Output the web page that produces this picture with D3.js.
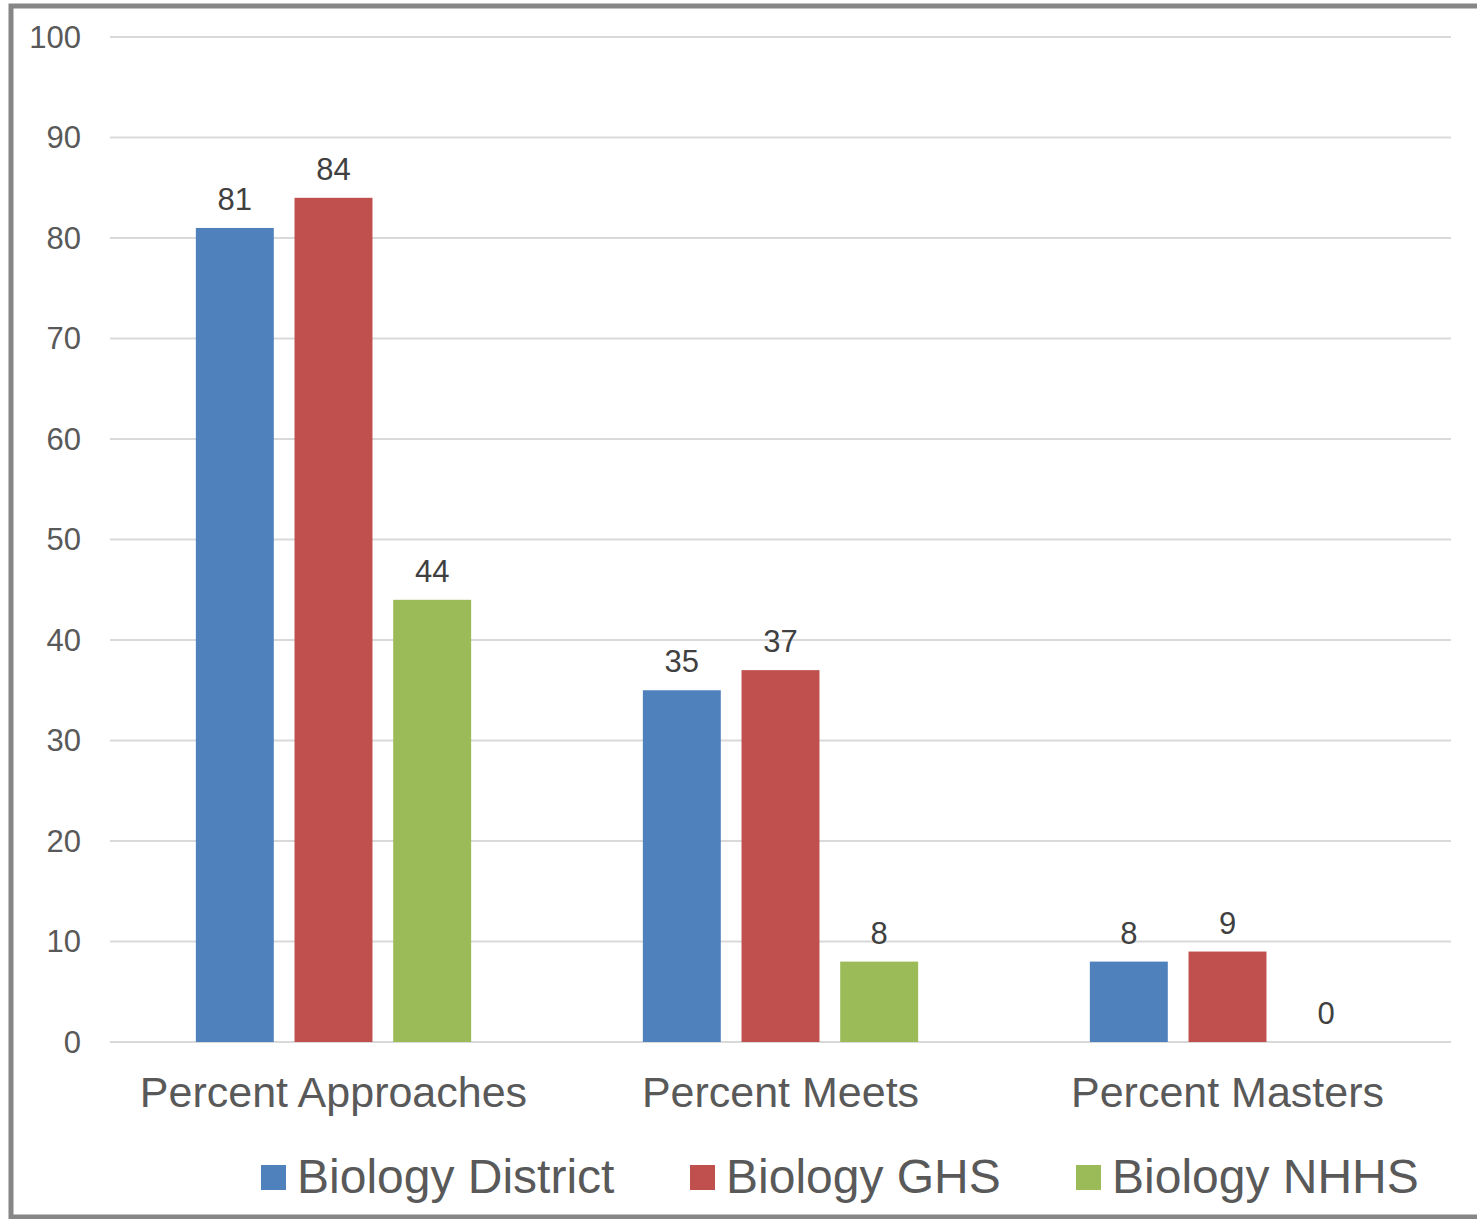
<!DOCTYPE html>
<html>
<head>
<meta charset="utf-8">
<script src="https://cdnjs.cloudflare.com/ajax/libs/d3/7.8.5/d3.min.js"></script>
<style>
  body { margin: 0; background: #fff; }
  text { font-family: "Liberation Sans", Arial, sans-serif; }
</style>
</head>
<body>
<div id="chart"></div>
<script>
const categories = ["Percent Approaches", "Percent Meets", "Percent Masters"];
const seriesNames = ["Biology District", "Biology GHS", "Biology NHHS"];
const district = [81, 35, 8];
const ghs = [84, 37, 9];
const nhhs = [44, 8, 0];
const yTicks = [0, 10, 20, 30, 40, 50, 60, 70, 80, 90, 100];
const colors = ["#4f81bd", "#c0504d", "#9bbb59"];

const width = 1477, height = 1219;
const margin = { left: 110, right: 26, top: 37, bottom: 177 };

const svg = d3.select("#chart")
    .append("svg")
    .attr("width", width)
    .attr("height", height);

svg.append("rect").attr("width", width).attr("height", height).attr("fill", "#fff");

// frame (left, top, bottom; right edge cut off)
const frame = d3.path();
frame.moveTo(width, 6);
frame.lineTo(11, 6);
frame.lineTo(11, 1217);
frame.lineTo(width, 1217);
svg.append("path")
    .attr("d", frame.toString())
    .attr("fill", "none")
    .attr("stroke", "#868686")
    .attr("stroke-width", 5);

const x = d3.scaleBand()
    .domain(categories)
    .range([margin.left, width - margin.right]);

const x1 = d3.scaleBand()
    .domain(seriesNames)
    .range([0, x.bandwidth()])
    .paddingInner(0.21)
    .paddingOuter(0.87);

const y = d3.scaleLinear()
    .domain([0, 100])
    .range([height - margin.bottom - 0, margin.top]);

// gridlines
svg.append("g")
    .selectAll("line")
    .data(yTicks)
    .join("line")
    .attr("x1", margin.left)
    .attr("x2", width - margin.right)
    .attr("y1", d => y(d))
    .attr("y2", d => y(d))
    .attr("stroke", "#d9d9d9")
    .attr("stroke-width", 2);

// y tick labels
svg.append("g")
    .selectAll("text")
    .data(yTicks)
    .join("text")
    .attr("x", 81)
    .attr("y", d => y(d))
    .attr("dy", "0.35em")
    .attr("text-anchor", "end")
    .attr("font-size", 31)
    .attr("fill", "#595959")
    .text(d => d);

const series = [district, ghs, nhhs];
const rows = [];
series.forEach((vals, si) => {
    vals.forEach((v, ci) => {
        rows.push({ s: seriesNames[si], c: categories[ci], v: v, si: si });
    });
});

// bars
svg.append("g")
    .selectAll("rect")
    .data(rows)
    .join("rect")
    .attr("x", d => x(d.c) + x1(d.s))
    .attr("y", d => y(d.v))
    .attr("width", x1.bandwidth())
    .attr("height", d => y(0) - y(d.v))
    .attr("fill", d => colors[d.si]);

// value labels
svg.append("g")
    .selectAll("text")
    .data(rows)
    .join("text")
    .attr("x", d => x(d.c) + x1(d.s) + x1.bandwidth() / 2)
    .attr("y", d => y(d.v) - 18)
    .attr("text-anchor", "middle")
    .attr("font-size", 31)
    .attr("fill", "#404040")
    .text(d => d.v);

// category labels
svg.append("g")
    .selectAll("text")
    .data(categories)
    .join("text")
    .attr("x", d => x(d) + x.bandwidth() / 2)
    .attr("y", 1107)
    .attr("text-anchor", "middle")
    .attr("font-size", 43)
    .attr("fill", "#595959")
    .text(d => d);

// legend
const legendX = [261, 690, 1076];
const legend = svg.append("g")
    .selectAll("g")
    .data(seriesNames)
    .join("g")
    .attr("transform", (d, i) => `translate(${legendX[i]},0)`);

legend.append("rect")
    .attr("x", 0)
    .attr("y", 1165)
    .attr("width", 25)
    .attr("height", 25)
    .attr("fill", (d, i) => colors[i]);

legend.append("text")
    .attr("x", 36)
    .attr("y", 1193)
    .attr("font-size", 48)
    .attr("fill", "#595959")
    .text(d => d);
</script>
</body>
</html>
